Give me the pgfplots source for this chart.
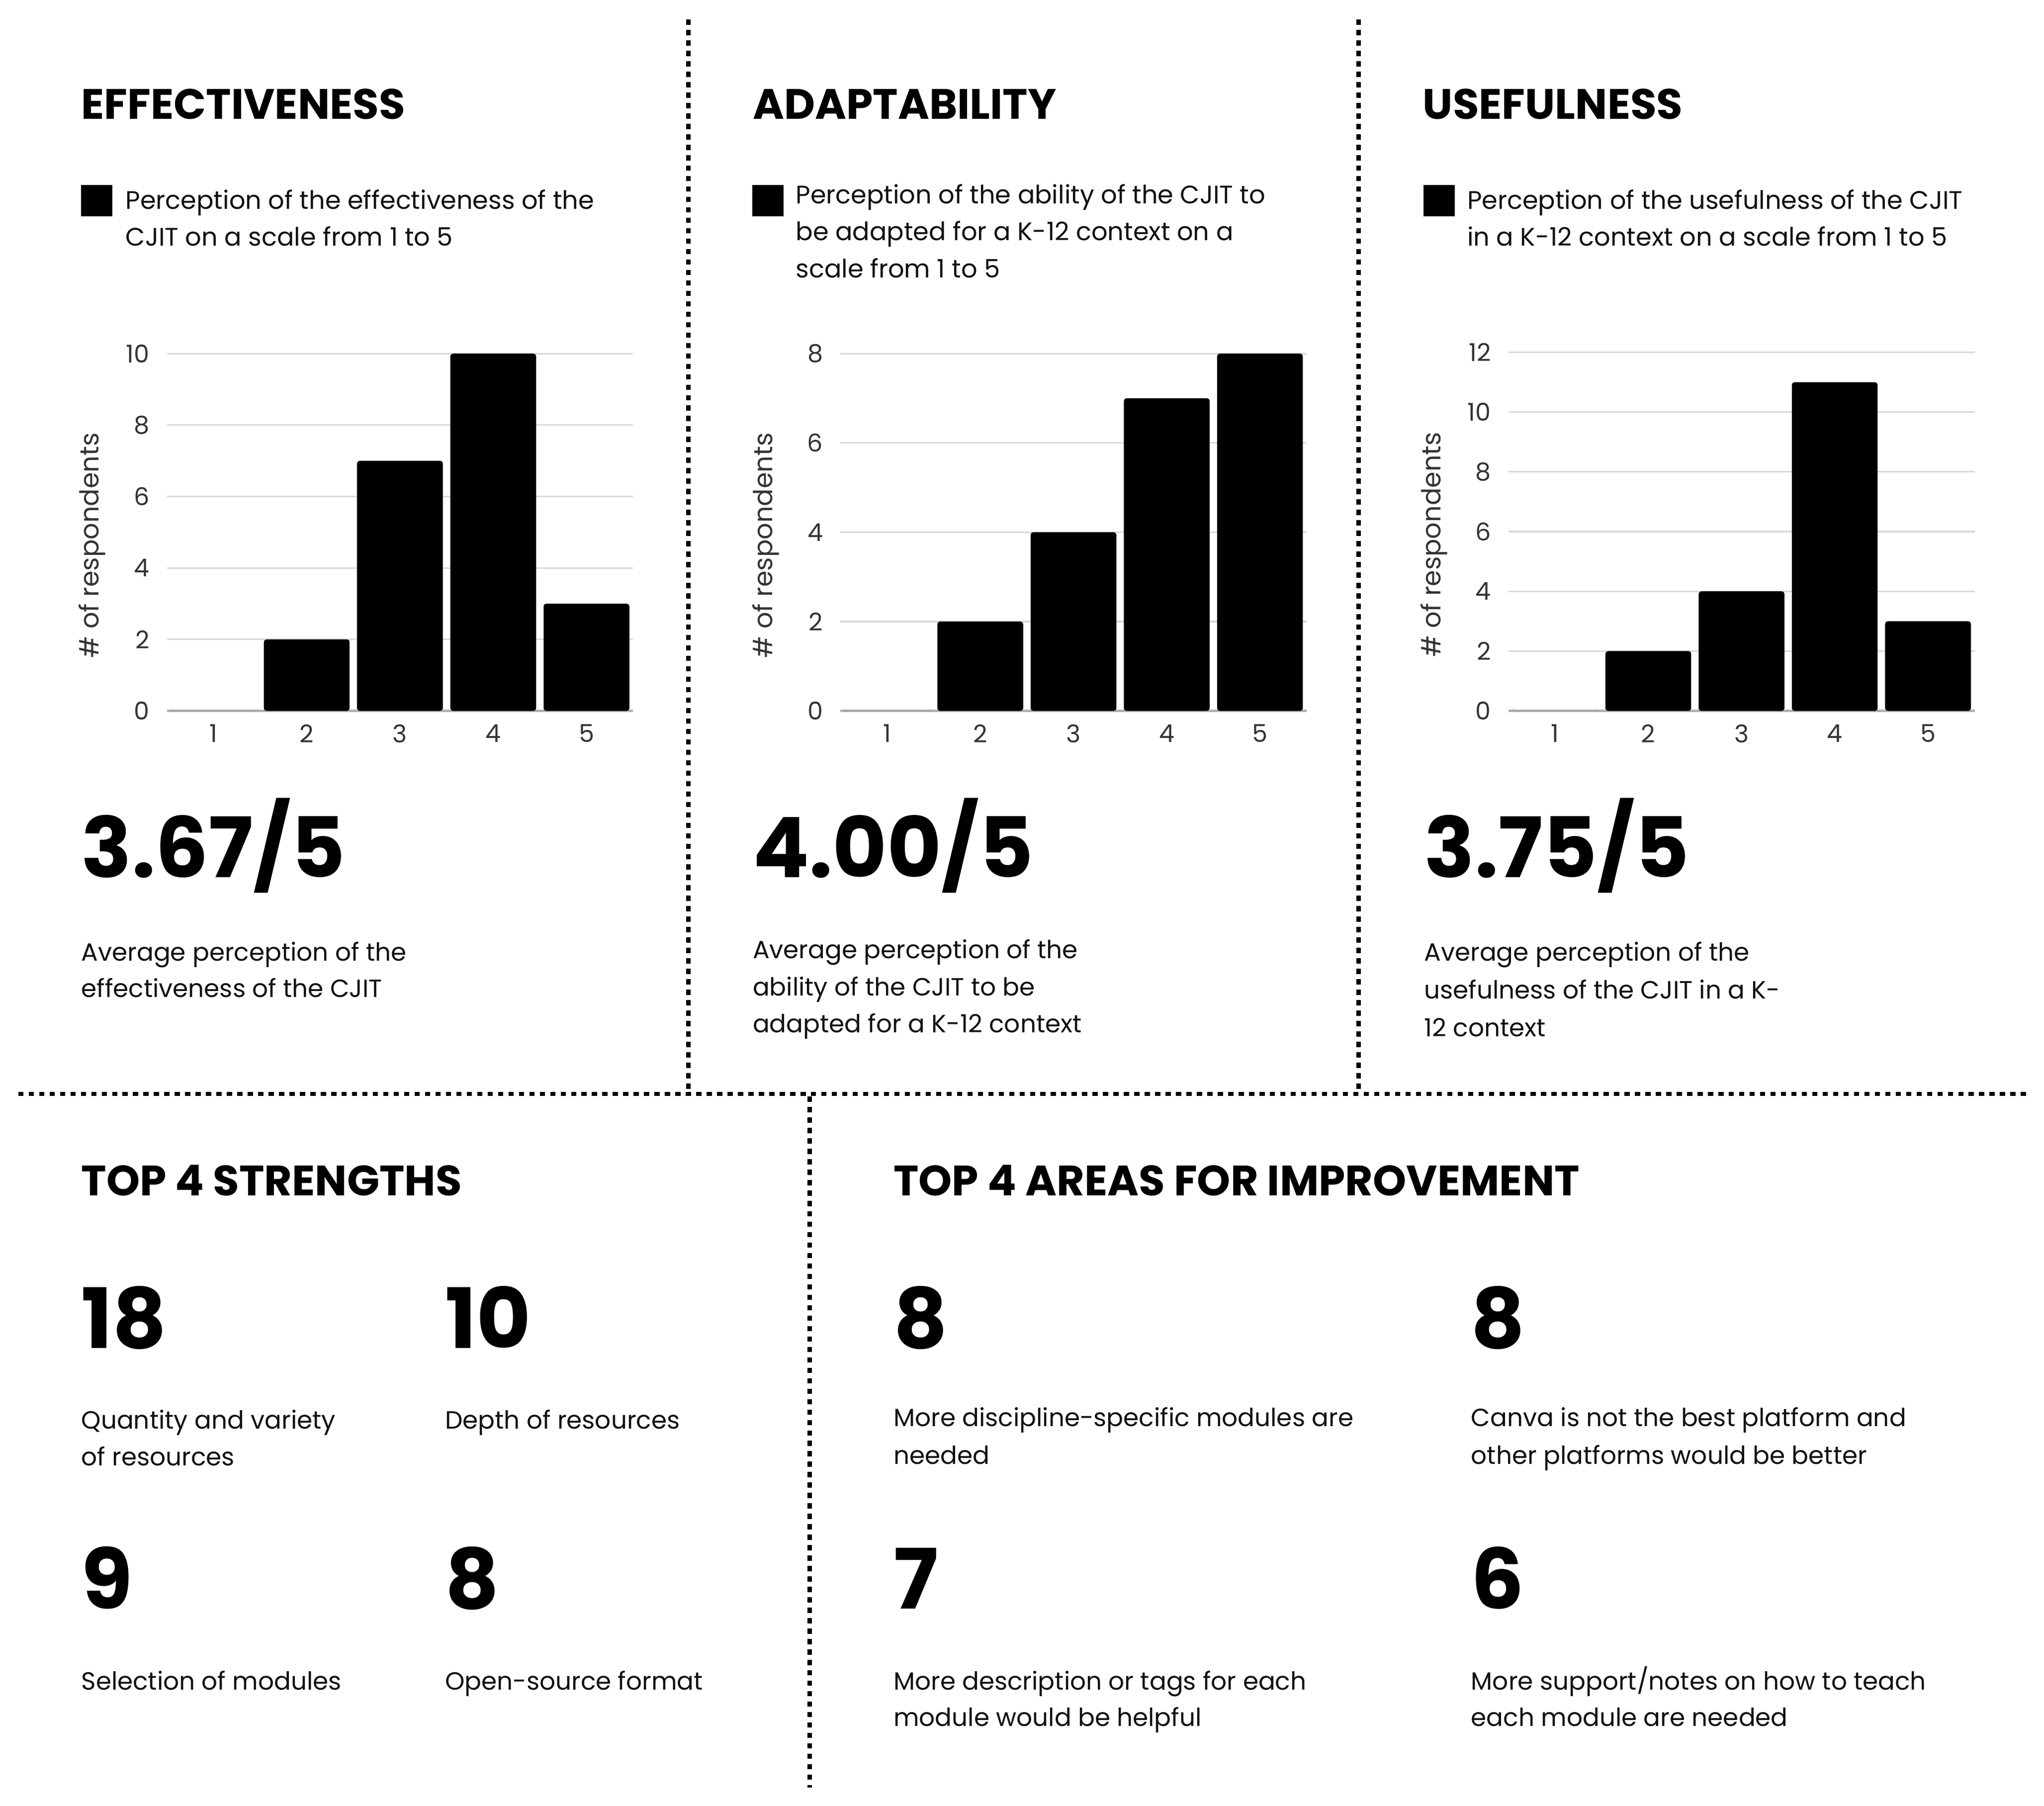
\documentclass[border=0pt]{standalone}
\usepackage{pgfplots}
\pgfplotsset{compat=1.18}
\usepackage{fontspec}
\setmainfont{Poppins}

\definecolor{gridc}{HTML}{D9D9D9}
\definecolor{basec}{HTML}{B0B0B0}
\definecolor{tickc}{HTML}{333333}
\definecolor{txt}{HTML}{111111}

\newcommand\ttl{\fontsize{16.3}{20}\selectfont\bfseries}
\newcommand\body{\fontsize{9.55}{14}\selectfont\color{txt}}
\newcommand\leg{\fontsize{9.72}{14}\selectfont\color{txt}}
\newcommand\bignum{\fontsize{32}{36}\selectfont\bfseries}

\tikzset{dots/.style={line width=1.6pt, dash pattern=on 2pt off 2pt}}

\pgfplotsset{panel/.style={
    scale only axis, anchor=south west, width=178.8pt,
    ybar, bar width=0.92,
    xmin=0.5, xmax=5.5, ymin=0, enlargelimits=false,
    xtick={1,...,5},
    axis line style={draw=none}, major tick length=0pt,
    ymajorgrids, grid style={draw=gridc, line width=0.6pt},
    extra y ticks={0}, extra y tick labels={},
    extra y tick style={grid style={draw=basec, line width=1pt}},
    tick label style={font=\fontsize{9.4}{10}\selectfont, text=tickc},
    /pgf/number format/assume math mode=true,
    yticklabel style={inner sep=0pt, xshift=-6.5pt},
    xticklabel style={inner sep=0pt, yshift=-5pt},
    ylabel={\# of respondents},
    ylabel style={at={(axis description cs:-0.16,0.4635)}, anchor=center,
                  font=\fontsize{10}{12}\selectfont, text=tickc},
}}

\begin{document}
\begin{tikzpicture}
\useasboundingbox (0,0) rectangle (783.9pt,-692.5pt);

% effectiveness
\begin{axis}[panel, at={(64pt,-272.6pt)}, height=137pt,
             ymax=10, ytick={0,2,...,10}]
\addplot[fill=black, draw=none, rounded corners=1pt] coordinates {(1,0) (2,2) (3,7) (4,10) (5,3)};
\end{axis}

% adaptability
\begin{axis}[panel, at={(322.3pt,-272.6pt)}, height=137pt,
             ymax=8, ytick={0,2,...,8}]
\addplot[fill=black, draw=none, rounded corners=1pt] coordinates {(1,0) (2,2) (3,4) (4,7) (5,8)};
\end{axis}

% usefulness
\begin{axis}[panel, at={(578.5pt,-272.6pt)}, height=137.5pt,
             ymax=12, ytick={0,2,...,12}]
\addplot[fill=black, draw=none, rounded corners=1pt] coordinates {(1,0) (2,2) (3,4) (4,11) (5,3)};
\end{axis}

\begin{scope}[x=0.5pt, y=-0.5pt, every node/.style={anchor=base west, inner sep=0pt}]
% separators
\draw[dots] (528,15) -- (528,838);
\draw[dots] (1042,15) -- (1042,838);
\draw[dots] (14,839) -- (1556,839);
\draw[dots] (621,841) -- (621,1371);

% top panels
\node at (62,91.5) {\ttl EFFECTIVENESS};
\node at (577,91.5) {\ttl ADAPTABILITY};
\node at (1091,91.5) {\ttl USEFULNESS};

\fill (62,142) rectangle (86,166);
\fill (577,142) rectangle (601,166);
\fill (1092,142) rectangle (1116,166);

\node at (96,160.5) {\leg Perception of the effectiveness of the};
\node at (96,188.5) {\leg CJIT on a scale from 1 to 5};
\node at (610,156) {\leg Perception of the ability of the CJIT to};
\node at (610,184.5) {\leg be adapted for a K-12 context on a};
\node at (610,213) {\leg scale from 1 to 5};
\node at (1125,160.5) {\leg Perception of the usefulness of the CJIT};
\node at (1125,188.5) {\leg in a K-12 context on a scale from 1 to 5};

\node at (62,673) {\bignum 3.67/5};
\node at (577,673) {\bignum 4.00/5};
\node at (1092,673) {\bignum 3.75/5};

\node at (62,737) {\body Average perception of the};
\node at (62,765) {\body effectiveness of the CJIT};
\node at (577,735) {\body Average perception of the};
\node at (577,763.5) {\body ability of the CJIT to be};
\node at (577,792) {\body adapted for a K-12 context};
\node at (1092,737) {\body Average perception of the};
\node at (1092,766) {\body usefulness of the CJIT in a K-};
\node at (1092,795) {\body 12 context};

% strengths
\node at (62,917) {\ttl TOP 4 STRENGTHS};
\node at (62,1034) {\bignum 18};
\node at (341,1034) {\bignum 10};
\node at (62,1096) {\body Quantity and variety};
\node at (62,1124) {\body of resources};
\node at (341,1096) {\body Depth of resources};
\node at (62,1234) {\bignum 9};
\node at (341,1234) {\bignum 8};
\node at (62,1296) {\body Selection of modules};
\node at (341,1296) {\body Open-source format};

% improvement
\node at (685,917) {\ttl TOP 4 AREAS FOR IMPROVEMENT};
\node at (685,1034) {\bignum 8};
\node at (1128,1034) {\bignum 8};
\node at (685,1094) {\body More discipline-specific modules are};
\node at (685,1123) {\body needed};
\node at (1128,1094) {\body Canva is not the best platform and};
\node at (1128,1123) {\body other platforms would be better};
\node at (685,1234) {\bignum 7};
\node at (1128,1234) {\bignum 6};
\node at (685,1296) {\body More description or tags for each};
\node at (685,1324) {\body module would be helpful};
\node at (1128,1296) {\body More support/notes on how to teach};
\node at (1128,1324) {\body each module are needed};
\end{scope}
\end{tikzpicture}
\end{document}
